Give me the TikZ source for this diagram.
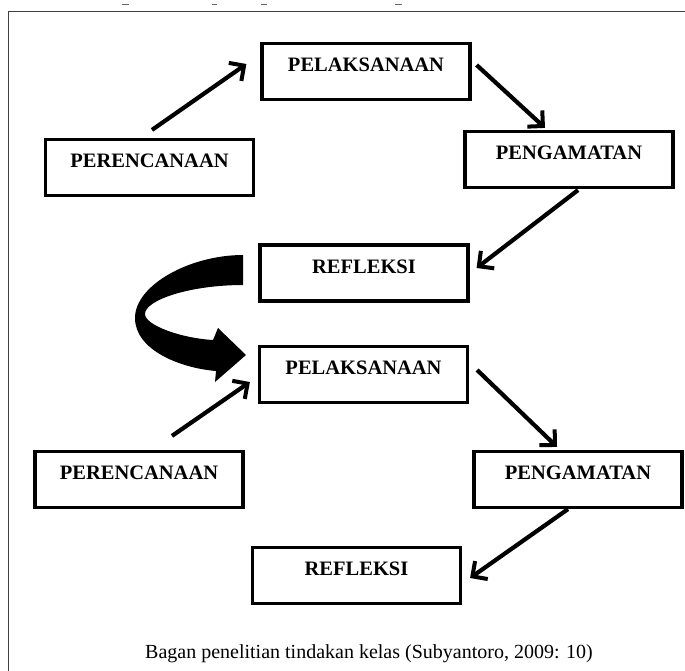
\documentclass[tikz,border=0pt]{standalone}
\usepackage{fontspec}
\setmainfont{Liberation Serif}
\usetikzlibrary{arrows.meta}
\begin{document}
\begin{tikzpicture}[x=1pt,y=-1pt,
  stepbox/.style={draw=black, line width=3.2pt, minimum width=208pt, minimum height=56pt,
    inner sep=0pt, text height=10pt, text depth=10pt,
    font=\fontsize{20.5}{24}\selectfont\bfseries},
  arr/.style={line width=4.2pt, -{Straight Barb[length=11pt,width=22pt,line width=4pt]}},
  frame/.style={draw=black!75, line width=1.4pt}]
\useasboundingbox (0,0) rectangle (685,670);
% frame
\draw[frame] (8.5,675) -- (8.5,11.5) -- (690,11.5);
% top fragments of cut text
\foreach \a/\b in {122/129,212/217,261/267,395/402}
  \draw[black!60, line width=1pt] (\a,4.5) -- (\b,4.5);
% boxes
\node[stepbox] (B1) at (366,71.5) {PELAKSANAAN};
\node[stepbox] (P1) at (149.5,167.5) {PERENCANAAN};
\node[stepbox] (G1) at (569,159.5) {PENGAMATAN};
\node[stepbox] (R1) at (364,273) {REFLEKSI};
\node[stepbox] (B2) at (363.5,374.5) {PELAKSANAAN};
\node[stepbox] (P2) at (139,479.5) {PERENCANAAN};
\node[stepbox] (G2) at (578,479.5) {PENGAMATAN};
\node[stepbox] (R2) at (356.5,575.5) {REFLEKSI};
% arrows
\draw[arr] ([shift={(2.5,-8)}]P1.north) -- ([shift={(-14,-7.5)}]B1.west);
\draw[arr] ([shift={(5,-6.5)}]B1.east) -- ([shift={(-24,-2)}]G1.north);
\draw[arr] ([shift={(9,1)}]G1.south) -- ([shift={(7,-5)}]R1.east);
\draw[arr] ([shift={(33,-14)}]P2.north) -- ([shift={(-8,7.5)}]B2.west);
\draw[arr] ([shift={(8,-4.5)}]B2.east) -- ([shift={(-21,-3)}]G2.north);
\draw[arr] ([shift={(-10,0)}]G2.south) -- ([shift={(8,2.5)}]R2.east);
% curved block arrow
\fill[black] (243,255) .. controls (190,255) and (135,285) .. (135,318)
  .. controls (135,350) and (180,368) .. (216,371)
  -- (215,382) -- (246,355) -- (218,328) -- (213,340)
  .. controls (180,338) and (145,325) .. (145,314)
  .. controls (145,300) and (190,285) .. (243,285) -- cycle;
% caption
\node[anchor=base, font=\fontsize{20}{24}\selectfont] (cap) at (369,658)
  {Bagan penelitian tindakan kelas (Subyantoro, 2009: 10)};
\end{tikzpicture}
\end{document}
